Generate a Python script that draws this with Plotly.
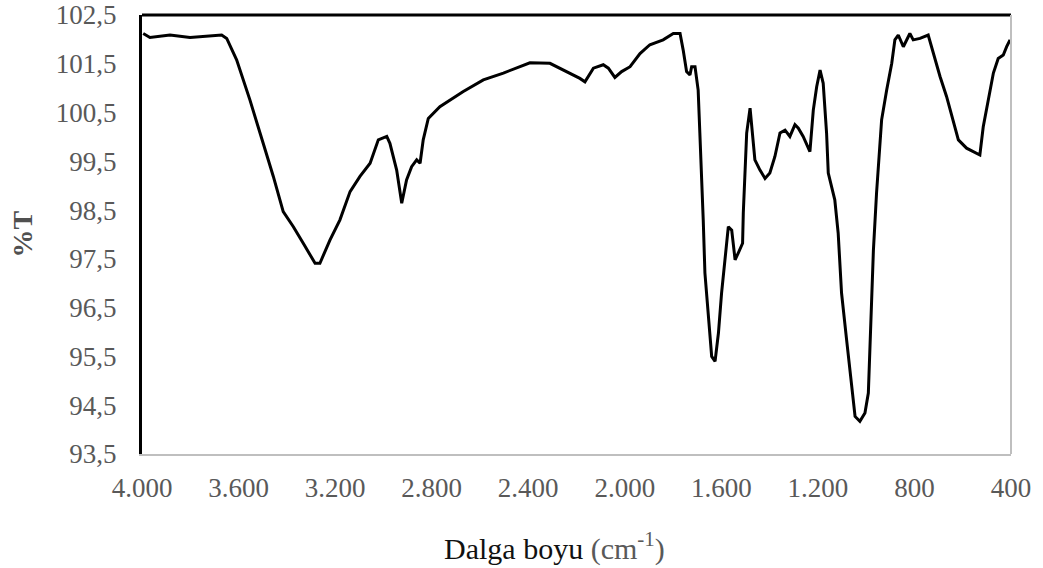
import plotly.graph_objects as go

wavenumber = [3995, 3967, 3884, 3801, 3670, 3649, 3608, 3553, 3498, 3456, 3415, 3373, 3332, 3283, 3263,
              3221, 3180, 3138, 3097, 3055, 3021, 2986, 2973, 2945, 2924, 2904, 2883, 2862, 2848, 2835,
              2814, 2766, 2669, 2586, 2503, 2448, 2393, 2310, 2186, 2165, 2130, 2089, 2068, 2041, 2013,
              1978, 1937, 1896, 1841, 1799, 1771, 1758, 1744, 1730, 1723, 1709, 1696, 1689, 1682, 1675,
              1668, 1654, 1640, 1626, 1612, 1599, 1585, 1571, 1557, 1543, 1530, 1512, 1509, 1502, 1495,
              1481, 1474, 1461, 1440, 1419, 1399, 1378, 1357, 1336, 1316, 1295, 1281, 1261, 1233, 1219,
              1205, 1191, 1178, 1164, 1157, 1130, 1116, 1102, 1081, 1060, 1046, 1026, 1005, 991, 984,
              970, 957, 943, 936, 915, 894, 881, 867, 846, 819, 805, 777, 743, 722, 694,
              667, 639, 618, 584, 549, 529, 515, 494, 473, 453, 432, 418, 404]
transmittance = [102.12, 102.04, 102.09, 102.04, 102.09, 102.02, 101.58, 100.76, 99.87, 99.19, 98.47, 98.16, 97.82, 97.41, 97.41,
                 97.89, 98.30, 98.88, 99.19, 99.46, 99.94, 100.01, 99.87, 99.32, 98.64, 99.12, 99.39, 99.53, 99.46, 99.94,
                 100.38, 100.62, 100.93, 101.17, 101.31, 101.41, 101.52, 101.51, 101.20, 101.13, 101.41, 101.48, 101.41, 101.22, 101.34,
                 101.44, 101.71, 101.89, 101.99, 102.12, 102.12, 101.78, 101.34, 101.27, 101.44, 101.44, 100.96, 100.08, 99.26, 98.30,
                 97.21, 96.25, 95.50, 95.40, 95.98, 96.80, 97.48, 98.16, 98.09, 97.48, 97.62, 97.82, 98.44, 99.26, 100.08,
                 100.59, 100.21, 99.53, 99.32, 99.15, 99.26, 99.60, 100.08, 100.14, 100.01, 100.25, 100.18, 100.01, 99.70, 100.55,
                 101.03, 101.37, 101.10, 100.08, 99.26, 98.71, 98.03, 96.80, 95.84, 94.95, 94.27, 94.17, 94.34, 94.75, 95.64,
                 97.68, 98.85, 99.73, 100.35, 100.96, 101.51, 101.99, 102.09, 101.85, 102.12, 101.99, 102.02, 102.09, 101.71, 101.24,
                 100.83, 100.35, 99.94, 99.77, 99.67, 99.63, 100.21, 100.76, 101.31, 101.61, 101.68, 101.85, 101.99]

x_tick_vals = [4000, 3600, 3200, 2800, 2400, 2000, 1600, 1200, 800, 400]
x_tick_text = ["4.000", "3.600", "3.200", "2.800", "2.400", "2.000", "1.600", "1.200", "800", "400"]
y_tick_vals = [93.5, 94.5, 95.5, 96.5, 97.5, 98.5, 99.5, 100.5, 101.5, 102.5]
y_tick_text = ["93,5", "94,5", "95,5", "96,5", "97,5", "98,5", "99,5", "100,5", "101,5", "102,5"]

FONT = "Liberation Serif"
GRAY = "#595959"

fig = go.Figure()
fig.add_trace(go.Scatter(x=wavenumber, y=transmittance, mode="lines",
                         line=dict(color="black", width=3), showlegend=False, hoverinfo="skip"))

fig.update_layout(
    width=1043, height=568,
    autosize=False,
    margin=dict(l=142, r=32, t=15, b=114, pad=0, autoexpand=False),
    paper_bgcolor="white", plot_bgcolor="white",
    font=dict(family=FONT, size=27, color=GRAY),
    xaxis=dict(range=[4000, 400], tickvals=x_tick_vals, ticktext=x_tick_text, automargin=False,
               showgrid=False, zeroline=False, showline=True, linecolor="#bfbfbf", linewidth=2,
               ticks="", ticklabelstandoff=9, ticklabeloverflow="allow",
               tickfont=dict(family=FONT, size=27, color=GRAY)),
    yaxis=dict(range=[93.5, 102.5], tickvals=y_tick_vals, ticktext=y_tick_text, automargin=False,
               showgrid=False, zeroline=False, showline=True, linecolor="black", linewidth=3,
               ticks="", ticklabelstandoff=17, ticklabeloverflow="allow",
               tickfont=dict(family=FONT, size=27, color=GRAY)),
    shapes=[
        dict(type="line", xref="paper", yref="paper", x0=0, x1=1, y0=1, y1=1,
             line=dict(color="black", width=3)),
        dict(type="line", xref="paper", yref="paper", x0=1, x1=1, y0=0, y1=1,
             line=dict(color="#bfbfbf", width=2)),
    ],
    annotations=[
        dict(text="<span style='font-family:Liberation Serif'>Dalga boyu</span> "
                  "<span style='font-family:Liberation Serif;color:#595959'>(cm<sup>-1</sup>)</span>",
             xref="paper", yref="paper", x=0.5, y=0, xshift=-22, yshift=-92,
             xanchor="center", yanchor="middle",
             showarrow=False, font=dict(family=FONT, size=30, color="#111111")),
        dict(text="<b>%T</b>", xref="paper", yref="paper", x=0, y=0.5, xshift=-120,
             xanchor="center", yanchor="middle", textangle=-90,
             showarrow=False, font=dict(family=FONT, size=28, color="#505050")),
    ],
)

fig.write_html("out.html", config={"responsive": False, "displayModeBar": False},
               post_script="document.body.style.margin='0';document.body.style.overflow='hidden';")
